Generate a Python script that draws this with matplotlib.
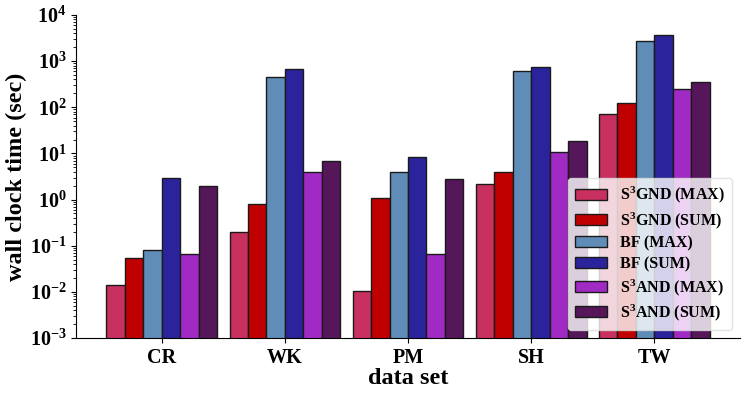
import numpy as np
import matplotlib
matplotlib.use("Agg")
import matplotlib.pyplot as plt

plt.rcParams['font.family'] = ['Liberation Serif', 'DejaVu Serif']
plt.rcParams['font.weight'] = 'bold'
plt.rcParams['mathtext.fontset'] = 'custom'
plt.rcParams['mathtext.rm'] = 'Liberation Serif:bold'
plt.rcParams['mathtext.it'] = 'Liberation Serif:bold'
plt.rcParams['mathtext.bf'] = 'Liberation Serif:bold'

datasets = ["CR", "WK", "PM", "SH", "TW"]
series_names = ["S$^3$GND (MAX)", "S$^3$GND (SUM)", "BF (MAX)", "BF (SUM)",
                "S$^3$AND (MAX)", "S$^3$AND (SUM)"]
s3gnd_max = [0.014, 0.195, 0.0104, 2.2, 73]
s3gnd_sum = [0.054, 0.79, 1.09, 3.9, 124]
bf_max = [0.081, 445, 4.0, 600, 2700]
bf_sum = [2.95, 660, 8.3, 760, 3600]
s3and_max = [0.066, 3.9, 0.066, 10.9, 250]
s3and_sum = [2.0, 7.0, 2.86, 18.5, 350]
colors = ["#c8305f", "#c00000", "#5f8db8", "#2b239b", "#a22ac4", "#55165a"]

values = [s3gnd_max, s3gnd_sum, bf_max, bf_sum, s3and_max, s3and_sum]

fig = plt.figure(figsize=(7.48, 3.94), dpi=100)
ax = fig.add_axes([0.102, 0.142, 0.887, 0.82])

x = np.arange(len(datasets))
w = 0.15
for i, (name, vals, c) in enumerate(zip(series_names, values, colors)):
    ax.bar(x + (i - 2.5) * w, vals, w, color=c, edgecolor="#1a1a1a",
           linewidth=1.0, label=name)

ax.set_yscale("log")
ax.set_ylim(1e-3, 1e4)
ax.set_xticks(x)
ax.set_xticklabels(datasets, fontsize=14.5, fontweight="bold")
ax.tick_params(axis="y", labelsize=14.5)
ax.set_xlabel("data set", fontsize=17.5, fontweight="bold", labelpad=0)
ax.set_ylabel("wall clock time (sec)", fontsize=17.5, fontweight="bold", labelpad=2)
ax.spines["top"].set_visible(False)
ax.spines["right"].set_visible(False)

leg = ax.legend(loc="lower right", bbox_to_anchor=(1.0, 0.0), fontsize=11.5,
                frameon=True, framealpha=0.8, handlelength=2.0,
                borderpad=0.45, labelspacing=0.3, borderaxespad=0.5)
leg.get_frame().set_edgecolor("#dddddd")

plt.savefig("out.png", dpi=100)
plt.close()
